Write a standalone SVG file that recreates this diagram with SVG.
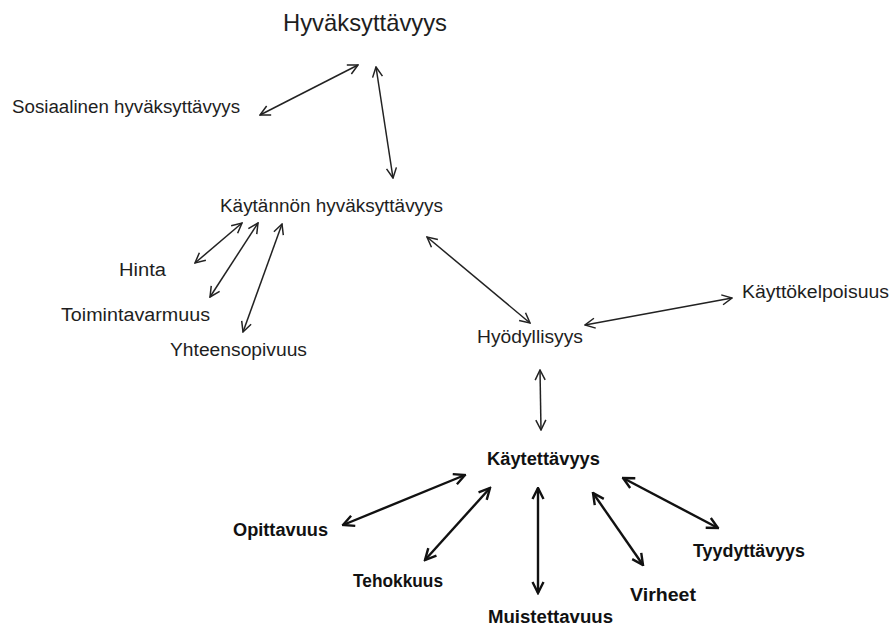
<svg xmlns="http://www.w3.org/2000/svg" width="890" height="628" viewBox="0 0 890 628">
<defs>
<marker id="ah" viewBox="0 0 12 12" refX="11" refY="6" markerWidth="12" markerHeight="12" markerUnits="userSpaceOnUse" orient="auto-start-reverse">
<path d="M1,1 L11,6 L1,11" fill="none" stroke="#222" stroke-width="1.5"/>
</marker>
<marker id="ahb" viewBox="0 0 14 14" refX="12.5" refY="7" markerWidth="14" markerHeight="14" markerUnits="userSpaceOnUse" orient="auto-start-reverse">
<path d="M1.5,1.5 L12.5,7 L1.5,12.5" fill="none" stroke="#111" stroke-width="2.4"/>
</marker>
</defs>
<style>
text{font-family:"Liberation Sans",Arial,sans-serif;fill:#1e1e1e;}
.t{font-size:18px;}
.h{font-size:24px;}
.b{font-size:18px;font-weight:bold;fill:#111;}
.c line{stroke:#222;stroke-width:1.5;marker-start:url(#ah);marker-end:url(#ah);}
.c .k{stroke:#111;stroke-width:2.4;marker-start:url(#ahb);marker-end:url(#ahb);}
</style>
<rect width="890" height="628" fill="#fff"/>
<g class="c" id="connectors">
<line x1="358" y1="65" x2="260" y2="115"/>
<line x1="376" y1="67" x2="393" y2="178"/>
<line x1="242" y1="223" x2="195" y2="263"/>
<line x1="258" y1="223" x2="210" y2="297"/>
<line x1="282" y1="224" x2="243" y2="332"/>
<line x1="427" y1="237" x2="530" y2="323"/>
<line x1="585" y1="325" x2="732" y2="298"/>
<line x1="540" y1="370" x2="541" y2="430"/>
<line class="k" x1="465" y1="475" x2="343" y2="525"/>
<line class="k" x1="490" y1="488" x2="425" y2="560"/>
<line class="k" x1="538" y1="488" x2="538" y2="593"/>
<line class="k" x1="593" y1="493" x2="643" y2="565"/>
<line class="k" x1="623" y1="478" x2="718" y2="528"/>
</g>
<g id="n-hyvaksyttavyys"><text class="h" x="283" y="31" textLength="164" lengthAdjust="spacingAndGlyphs">Hyväksyttävyys</text></g>
<g id="n-sosiaalinen"><text class="t" x="12" y="113" textLength="228" lengthAdjust="spacingAndGlyphs">Sosiaalinen hyväksyttävyys</text></g>
<g id="n-kaytannon"><text class="t" x="220" y="212" textLength="223" lengthAdjust="spacingAndGlyphs">Käytännön hyväksyttävyys</text></g>
<g id="n-hinta"><text class="t" x="119" y="276" textLength="47" lengthAdjust="spacingAndGlyphs">Hinta</text></g>
<g id="n-toimintavarmuus"><text class="t" x="61" y="321" textLength="149" lengthAdjust="spacingAndGlyphs">Toimintavarmuus</text></g>
<g id="n-yhteensopivuus"><text class="t" x="170" y="356" textLength="137" lengthAdjust="spacingAndGlyphs">Yhteensopivuus</text></g>
<g id="n-hyodyllisyys"><text class="t" x="477" y="343" textLength="106" lengthAdjust="spacingAndGlyphs">Hyödyllisyys</text></g>
<g id="n-kayttokelpoisuus"><text class="t" x="742" y="298" textLength="147" lengthAdjust="spacingAndGlyphs">Käyttökelpoisuus</text></g>
<g id="n-kaytettavyys"><text class="b" x="487" y="465" textLength="113" lengthAdjust="spacingAndGlyphs">Käytettävyys</text></g>
<g id="n-opittavuus"><text class="b" x="233" y="536" textLength="95" lengthAdjust="spacingAndGlyphs">Opittavuus</text></g>
<g id="n-tehokkuus"><text class="b" x="353" y="587" textLength="90" lengthAdjust="spacingAndGlyphs">Tehokkuus</text></g>
<g id="n-muistettavuus"><text class="b" x="488" y="623" textLength="125" lengthAdjust="spacingAndGlyphs">Muistettavuus</text></g>
<g id="n-virheet"><text class="b" x="630" y="601" textLength="66" lengthAdjust="spacingAndGlyphs">Virheet</text></g>
<g id="n-tyydyttavyys"><text class="b" x="693" y="557" textLength="112" lengthAdjust="spacingAndGlyphs">Tyydyttävyys</text></g>
</svg>
